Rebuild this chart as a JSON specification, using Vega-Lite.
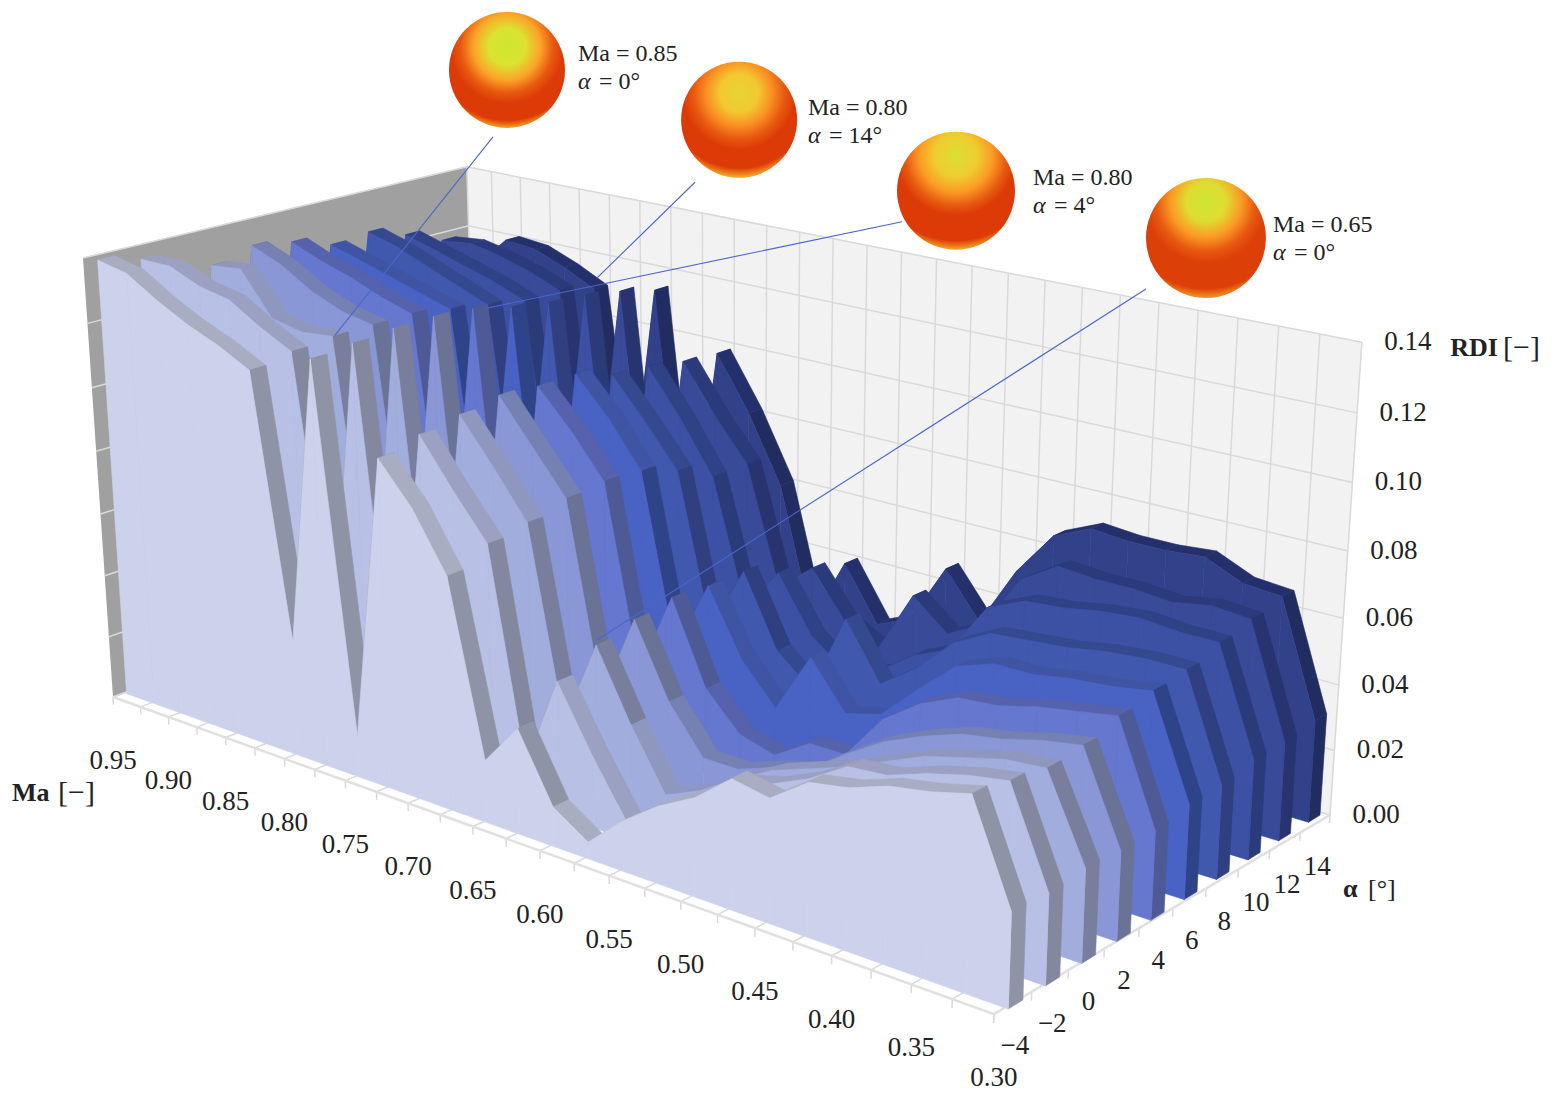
{
"$schema":"https://vega.github.io/schema/vega-lite/v6.json",
"width":1554,"height":1106,"padding":0,
"autosize":{"type":"fit","contains":"padding"},
"background":"white",
"config":{"view":{"stroke":null}},
"datasets":{
"frame":[
{"set":"wall","id":"left","ma":[0.95,0.9465,0.9465,0.95],"alpha":[-5,15,15,-5],"rdi":[0.14,0.14,0,0]},
{"set":"wall","id":"back","ma":[0.9465,0.3,0.3,0.9465],"alpha":[15,15,15,15],"rdi":[0.14,0.14,0,0]},
{"set":"grid","id":"m0","ma":[0.95,0.95,0.9465,0.9465],"alpha":[-5,-5,15,15],"rdi":[-0.0025,0,0,0.14]},
{"set":"grid","id":"m1","ma":[0.925,0.925,0.925,0.925],"alpha":[-5,-5,15,15],"rdi":[-0.0025,0,0,0.14]},
{"set":"grid","id":"m2","ma":[0.9,0.9,0.9,0.9],"alpha":[-5,-5,15,15],"rdi":[-0.0025,0,0,0.14]},
{"set":"grid","id":"m3","ma":[0.875,0.875,0.875,0.875],"alpha":[-5,-5,15,15],"rdi":[-0.0025,0,0,0.14]},
{"set":"grid","id":"m4","ma":[0.85,0.85,0.85,0.85],"alpha":[-5,-5,15,15],"rdi":[-0.0025,0,0,0.14]},
{"set":"grid","id":"m5","ma":[0.825,0.825,0.825,0.825],"alpha":[-5,-5,15,15],"rdi":[-0.0025,0,0,0.14]},
{"set":"grid","id":"m6","ma":[0.8,0.8,0.8,0.8],"alpha":[-5,-5,15,15],"rdi":[-0.0025,0,0,0.14]},
{"set":"grid","id":"m7","ma":[0.775,0.775,0.775,0.775],"alpha":[-5,-5,15,15],"rdi":[-0.0025,0,0,0.14]},
{"set":"grid","id":"m8","ma":[0.75,0.75,0.75,0.75],"alpha":[-5,-5,15,15],"rdi":[-0.0025,0,0,0.14]},
{"set":"grid","id":"m9","ma":[0.725,0.725,0.725,0.725],"alpha":[-5,-5,15,15],"rdi":[-0.0025,0,0,0.14]},
{"set":"grid","id":"m10","ma":[0.7,0.7,0.7,0.7],"alpha":[-5,-5,15,15],"rdi":[-0.0025,0,0,0.14]},
{"set":"grid","id":"m11","ma":[0.675,0.675,0.675,0.675],"alpha":[-5,-5,15,15],"rdi":[-0.0025,0,0,0.14]},
{"set":"grid","id":"m12","ma":[0.65,0.65,0.65,0.65],"alpha":[-5,-5,15,15],"rdi":[-0.0025,0,0,0.14]},
{"set":"grid","id":"m13","ma":[0.625,0.625,0.625,0.625],"alpha":[-5,-5,15,15],"rdi":[-0.0025,0,0,0.14]},
{"set":"grid","id":"m14","ma":[0.6,0.6,0.6,0.6],"alpha":[-5,-5,15,15],"rdi":[-0.0025,0,0,0.14]},
{"set":"grid","id":"m15","ma":[0.575,0.575,0.575,0.575],"alpha":[-5,-5,15,15],"rdi":[-0.0025,0,0,0.14]},
{"set":"grid","id":"m16","ma":[0.55,0.55,0.55,0.55],"alpha":[-5,-5,15,15],"rdi":[-0.0025,0,0,0.14]},
{"set":"grid","id":"m17","ma":[0.525,0.525,0.525,0.525],"alpha":[-5,-5,15,15],"rdi":[-0.0025,0,0,0.14]},
{"set":"grid","id":"m18","ma":[0.5,0.5,0.5,0.5],"alpha":[-5,-5,15,15],"rdi":[-0.0025,0,0,0.14]},
{"set":"grid","id":"m19","ma":[0.475,0.475,0.475,0.475],"alpha":[-5,-5,15,15],"rdi":[-0.0025,0,0,0.14]},
{"set":"grid","id":"m20","ma":[0.45,0.45,0.45,0.45],"alpha":[-5,-5,15,15],"rdi":[-0.0025,0,0,0.14]},
{"set":"grid","id":"m21","ma":[0.425,0.425,0.425,0.425],"alpha":[-5,-5,15,15],"rdi":[-0.0025,0,0,0.14]},
{"set":"grid","id":"m22","ma":[0.4,0.4,0.4,0.4],"alpha":[-5,-5,15,15],"rdi":[-0.0025,0,0,0.14]},
{"set":"grid","id":"m23","ma":[0.375,0.375,0.375,0.375],"alpha":[-5,-5,15,15],"rdi":[-0.0025,0,0,0.14]},
{"set":"grid","id":"m24","ma":[0.35,0.35,0.35,0.35],"alpha":[-5,-5,15,15],"rdi":[-0.0025,0,0,0.14]},
{"set":"grid","id":"m25","ma":[0.325,0.325,0.325,0.325],"alpha":[-5,-5,15,15],"rdi":[-0.0025,0,0,0.14]},
{"set":"grid","id":"m26","ma":[0.3,0.3,0.3,0.3],"alpha":[-5,-5,15,15],"rdi":[-0.0025,0,0,0.14]},
{"set":"grid","id":"r0","ma":[0.95,0.9465,0.3],"alpha":[-5,15,15],"rdi":[0.0,0.0,0.0]},
{"set":"grid","id":"r2","ma":[0.95,0.9465,0.3],"alpha":[-5,15,15],"rdi":[0.02,0.02,0.02]},
{"set":"grid","id":"r4","ma":[0.95,0.9465,0.3],"alpha":[-5,15,15],"rdi":[0.04,0.04,0.04]},
{"set":"grid","id":"r6","ma":[0.95,0.9465,0.3],"alpha":[-5,15,15],"rdi":[0.06,0.06,0.06]},
{"set":"grid","id":"r8","ma":[0.95,0.9465,0.3],"alpha":[-5,15,15],"rdi":[0.08,0.08,0.08]},
{"set":"grid","id":"r10","ma":[0.95,0.9465,0.3],"alpha":[-5,15,15],"rdi":[0.1,0.1,0.1]},
{"set":"grid","id":"r12","ma":[0.95,0.9465,0.3],"alpha":[-5,15,15],"rdi":[0.12,0.12,0.12]},
{"set":"grid","id":"r14","ma":[0.95,0.9465,0.3],"alpha":[-5,15,15],"rdi":[0.14,0.14,0.14]},
{"set":"grid","id":"a0","ma":[0.3,0.3],"alpha":[-5,-5],"rdi":[0,-0.0025]},
{"set":"grid","id":"a1","ma":[0.3,0.3],"alpha":[-3,-3],"rdi":[0,-0.0025]},
{"set":"grid","id":"a2","ma":[0.3,0.3],"alpha":[-1,-1],"rdi":[0,-0.0025]},
{"set":"grid","id":"a3","ma":[0.3,0.3],"alpha":[1,1],"rdi":[0,-0.0025]},
{"set":"grid","id":"a4","ma":[0.3,0.3],"alpha":[3,3],"rdi":[0,-0.0025]},
{"set":"grid","id":"a5","ma":[0.3,0.3],"alpha":[5,5],"rdi":[0,-0.0025]},
{"set":"grid","id":"a6","ma":[0.3,0.3],"alpha":[7,7],"rdi":[0,-0.0025]},
{"set":"grid","id":"a7","ma":[0.3,0.3],"alpha":[9,9],"rdi":[0,-0.0025]},
{"set":"grid","id":"a8","ma":[0.3,0.3],"alpha":[11,11],"rdi":[0,-0.0025]},
{"set":"grid","id":"a9","ma":[0.3,0.3],"alpha":[13,13],"rdi":[0,-0.0025]},
{"set":"grid","id":"a10","ma":[0.3,0.3],"alpha":[15,15],"rdi":[0,-0.0025]},
{"set":"edge","id":"floor","ma":[0.95,0.3,0.3],"alpha":[-5,-5,15],"rdi":[0,0,0]},
{"set":"tickMa","text":"0.95","ma":[0.95],"alpha":[-5],"rdi":[0]},
{"set":"tickMa","text":"0.90","ma":[0.9],"alpha":[-5],"rdi":[0]},
{"set":"tickMa","text":"0.85","ma":[0.85],"alpha":[-5],"rdi":[0]},
{"set":"tickMa","text":"0.80","ma":[0.8],"alpha":[-5],"rdi":[0]},
{"set":"tickMa","text":"0.75","ma":[0.75],"alpha":[-5],"rdi":[0]},
{"set":"tickMa","text":"0.70","ma":[0.7],"alpha":[-5],"rdi":[0]},
{"set":"tickMa","text":"0.65","ma":[0.65],"alpha":[-5],"rdi":[0]},
{"set":"tickMa","text":"0.60","ma":[0.6],"alpha":[-5],"rdi":[0]},
{"set":"tickMa","text":"0.55","ma":[0.55],"alpha":[-5],"rdi":[0]},
{"set":"tickMa","text":"0.50","ma":[0.5],"alpha":[-5],"rdi":[0]},
{"set":"tickMa","text":"0.45","ma":[0.45],"alpha":[-5],"rdi":[0]},
{"set":"tickMa","text":"0.40","ma":[0.4],"alpha":[-5],"rdi":[0]},
{"set":"tickMa","text":"0.35","ma":[0.35],"alpha":[-5],"rdi":[0]},
{"set":"tickMa","text":"0.30","ma":[0.3],"alpha":[-5],"rdi":[0]},
{"set":"tickAlpha","text":"−4","ma":[0.3],"alpha":[-4],"rdi":[0]},
{"set":"tickAlpha","text":"−2","ma":[0.3],"alpha":[-2],"rdi":[0]},
{"set":"tickAlpha","text":"0","ma":[0.3],"alpha":[0],"rdi":[0]},
{"set":"tickAlpha","text":"2","ma":[0.3],"alpha":[2],"rdi":[0]},
{"set":"tickAlpha","text":"4","ma":[0.3],"alpha":[4],"rdi":[0]},
{"set":"tickAlpha","text":"6","ma":[0.3],"alpha":[6],"rdi":[0]},
{"set":"tickAlpha","text":"8","ma":[0.3],"alpha":[8],"rdi":[0]},
{"set":"tickAlpha","text":"10","ma":[0.3],"alpha":[10],"rdi":[0]},
{"set":"tickAlpha","text":"12","ma":[0.3],"alpha":[12],"rdi":[0]},
{"set":"tickAlpha","text":"14","ma":[0.3],"alpha":[14],"rdi":[0]},
{"set":"tickRdi","text":"0.00","ma":[0.3],"alpha":[15],"rdi":[0]},
{"set":"tickRdi","text":"0.02","ma":[0.3],"alpha":[15],"rdi":[0.02]},
{"set":"tickRdi","text":"0.04","ma":[0.3],"alpha":[15],"rdi":[0.04]},
{"set":"tickRdi","text":"0.06","ma":[0.3],"alpha":[15],"rdi":[0.06]},
{"set":"tickRdi","text":"0.08","ma":[0.3],"alpha":[15],"rdi":[0.08]},
{"set":"tickRdi","text":"0.10","ma":[0.3],"alpha":[15],"rdi":[0.1]},
{"set":"tickRdi","text":"0.12","ma":[0.3],"alpha":[15],"rdi":[0.12]},
{"set":"tickRdi","text":"0.14","ma":[0.3],"alpha":[15],"rdi":[0.14]},
{"set":"title","text":"RDI","ma":[0.2493],"alpha":[15],"rdi":[0.1432]},
{"set":"title","text":"Ma","ma":[1.4666],"alpha":[15],"rdi":[-0.1612]},
{"set":"title","text":"α","ma":[0.2889],"alpha":[15],"rdi":[-0.0215]},
{"set":"unit","text":"[−]","ma":[0.22],"alpha":[15],"rdi":[0.1459]},
{"set":"unit","text":"[−]","ma":[1.4088],"alpha":[15],"rdi":[-0.1529]},
{"set":"unit2","text":"[°]","ma":[0.2737],"alpha":[15],"rdi":[-0.0192]},
{"set":"leader","id":"l1","ma":[0.9228,1.0748],"alpha":[15,15],"rdi":[0.1518,0.0703]},
{"set":"leader","id":"l2","ma":[0.7557,0.8361],"alpha":[15,15],"rdi":[0.1494,0.1116]},
{"set":"leader","id":"l3","ma":[0.6,0.9319],"alpha":[15,15],"rdi":[0.1493,0.0929]},
{"set":"leader","id":"l4","ma":[0.4337,0.8406],"alpha":[15,15],"rdi":[0.1432,-0.0147]},
{"set":"sphere","id":"s1","ma":[0.9093],"alpha":[15],"rdi":[0.1748]},
{"set":"sphere","id":"s2","ma":[0.7213],"alpha":[15],"rdi":[0.1716]},
{"set":"sphere","id":"s3","ma":[0.5625],"alpha":[15],"rdi":[0.1616]},
{"set":"sphere","id":"s4","ma":[0.3974],"alpha":[15],"rdi":[0.161]},
{"set":"note","text":"Ma = 0.85","text2":"= 0°","ma":[0.8492],"alpha":[15],"rdi":[0.1838]},
{"set":"note","text":"Ma = 0.80","text2":"= 14°","ma":[0.6695],"alpha":[15],"rdi":[0.1788]},
{"set":"note","text":"Ma = 0.80","text2":"= 4°","ma":[0.5103],"alpha":[15],"rdi":[0.1694]},
{"set":"note","text":"Ma = 0.65","text2":"= 0°","ma":[0.3569],"alpha":[15],"rdi":[0.168]}
],
"ribbons":[
{"alpha":-4,"ma":0.95,"rdi":0.14},{"alpha":-4,"ma":0.925,"rdi":0.138},{"alpha":-4,"ma":0.9,"rdi":0.132},{"alpha":-4,"ma":0.875,"rdi":0.127},{"alpha":-4,"ma":0.85,"rdi":0.123},{"alpha":-4,"ma":0.825,"rdi":0.118},{"alpha":-4,"ma":0.8,"rdi":0.038},{"alpha":-4,"ma":0.775,"rdi":0.126},{"alpha":-4,"ma":0.75,"rdi":0.015},{"alpha":-4,"ma":0.725,"rdi":0.102},{"alpha":-4,"ma":0.7,"rdi":0.09},{"alpha":-4,"ma":0.675,"rdi":0.073},{"alpha":-4,"ma":0.65,"rdi":0.021},{"alpha":-4,"ma":0.625,"rdi":0.034},{"alpha":-4,"ma":0.6,"rdi":0.014},{"alpha":-4,"ma":0.575,"rdi":0.007},{"alpha":-4,"ma":0.55,"rdi":0.017},{"alpha":-4,"ma":0.525,"rdi":0.025},{"alpha":-4,"ma":0.5,"rdi":0.031},{"alpha":-4,"ma":0.475,"rdi":0.04},{"alpha":-4,"ma":0.45,"rdi":0.038},{"alpha":-4,"ma":0.425,"rdi":0.046},{"alpha":-4,"ma":0.4,"rdi":0.048},{"alpha":-4,"ma":0.375,"rdi":0.052},{"alpha":-4,"ma":0.35,"rdi":0.054},{"alpha":-4,"ma":0.325,"rdi":0.057},{"alpha":-4,"ma":0.3,"rdi":0.029},{"alpha":-4,"ma":0.3,"rdi":0.002},
{"alpha":-2,"ma":0.95,"rdi":0.137},{"alpha":-2,"ma":0.925,"rdi":0.137},{"alpha":-2,"ma":0.9,"rdi":0.133},{"alpha":-2,"ma":0.875,"rdi":0.131},{"alpha":-2,"ma":0.85,"rdi":0.125},{"alpha":-2,"ma":0.825,"rdi":0.12},{"alpha":-2,"ma":0.8,"rdi":0.035},{"alpha":-2,"ma":0.775,"rdi":0.127},{"alpha":-2,"ma":0.75,"rdi":0.015},{"alpha":-2,"ma":0.725,"rdi":0.105},{"alpha":-2,"ma":0.7,"rdi":0.091},{"alpha":-2,"ma":0.675,"rdi":0.078},{"alpha":-2,"ma":0.65,"rdi":0.014},{"alpha":-2,"ma":0.625,"rdi":0.043},{"alpha":-2,"ma":0.6,"rdi":0.024},{"alpha":-2,"ma":0.575,"rdi":0.007},{"alpha":-2,"ma":0.55,"rdi":0.014},{"alpha":-2,"ma":0.525,"rdi":0.022},{"alpha":-2,"ma":0.5,"rdi":0.03},{"alpha":-2,"ma":0.475,"rdi":0.033},{"alpha":-2,"ma":0.45,"rdi":0.038},{"alpha":-2,"ma":0.425,"rdi":0.045},{"alpha":-2,"ma":0.4,"rdi":0.046},{"alpha":-2,"ma":0.375,"rdi":0.05},{"alpha":-2,"ma":0.35,"rdi":0.053},{"alpha":-2,"ma":0.325,"rdi":0.055},{"alpha":-2,"ma":0.3,"rdi":0.028},{"alpha":-2,"ma":0.3,"rdi":0.002},
{"alpha":0,"ma":0.95,"rdi":0.06},{"alpha":0,"ma":0.925,"rdi":0.134},{"alpha":0,"ma":0.9,"rdi":0.135},{"alpha":0,"ma":0.875,"rdi":0.122},{"alpha":0,"ma":0.85,"rdi":0.12},{"alpha":0,"ma":0.825,"rdi":0.121},{"alpha":0,"ma":0.8,"rdi":0.033},{"alpha":0,"ma":0.775,"rdi":0.128},{"alpha":0,"ma":0.75,"rdi":0.017},{"alpha":0,"ma":0.725,"rdi":0.107},{"alpha":0,"ma":0.7,"rdi":0.094},{"alpha":0,"ma":0.675,"rdi":0.08},{"alpha":0,"ma":0.65,"rdi":0.022},{"alpha":0,"ma":0.625,"rdi":0.049},{"alpha":0,"ma":0.6,"rdi":0.028},{"alpha":0,"ma":0.575,"rdi":0.01},{"alpha":0,"ma":0.55,"rdi":0.015},{"alpha":0,"ma":0.525,"rdi":0.022},{"alpha":0,"ma":0.5,"rdi":0.028},{"alpha":0,"ma":0.475,"rdi":0.032},{"alpha":0,"ma":0.45,"rdi":0.036},{"alpha":0,"ma":0.425,"rdi":0.041},{"alpha":0,"ma":0.4,"rdi":0.046},{"alpha":0,"ma":0.375,"rdi":0.049},{"alpha":0,"ma":0.35,"rdi":0.052},{"alpha":0,"ma":0.325,"rdi":0.053},{"alpha":0,"ma":0.3,"rdi":0.029},{"alpha":0,"ma":0.3,"rdi":0.002},
{"alpha":2,"ma":0.95,"rdi":0.06},{"alpha":2,"ma":0.925,"rdi":0.137},{"alpha":2,"ma":0.9,"rdi":0.133},{"alpha":2,"ma":0.875,"rdi":0.127},{"alpha":2,"ma":0.85,"rdi":0.123},{"alpha":2,"ma":0.825,"rdi":0.121},{"alpha":2,"ma":0.8,"rdi":0.035},{"alpha":2,"ma":0.775,"rdi":0.128},{"alpha":2,"ma":0.75,"rdi":0.018},{"alpha":2,"ma":0.725,"rdi":0.109},{"alpha":2,"ma":0.7,"rdi":0.096},{"alpha":2,"ma":0.675,"rdi":0.083},{"alpha":2,"ma":0.65,"rdi":0.025},{"alpha":2,"ma":0.625,"rdi":0.052},{"alpha":2,"ma":0.6,"rdi":0.03},{"alpha":2,"ma":0.575,"rdi":0.016},{"alpha":2,"ma":0.55,"rdi":0.016},{"alpha":2,"ma":0.525,"rdi":0.02},{"alpha":2,"ma":0.5,"rdi":0.023},{"alpha":2,"ma":0.475,"rdi":0.031},{"alpha":2,"ma":0.45,"rdi":0.038},{"alpha":2,"ma":0.425,"rdi":0.043},{"alpha":2,"ma":0.4,"rdi":0.047},{"alpha":2,"ma":0.375,"rdi":0.049},{"alpha":2,"ma":0.35,"rdi":0.052},{"alpha":2,"ma":0.325,"rdi":0.054},{"alpha":2,"ma":0.3,"rdi":0.028},{"alpha":2,"ma":0.3,"rdi":0.002},
{"alpha":4,"ma":0.95,"rdi":0.06},{"alpha":4,"ma":0.925,"rdi":0.135},{"alpha":4,"ma":0.9,"rdi":0.131},{"alpha":4,"ma":0.875,"rdi":0.128},{"alpha":4,"ma":0.85,"rdi":0.124},{"alpha":4,"ma":0.825,"rdi":0.121},{"alpha":4,"ma":0.8,"rdi":0.036},{"alpha":4,"ma":0.775,"rdi":0.127},{"alpha":4,"ma":0.75,"rdi":0.018},{"alpha":4,"ma":0.725,"rdi":0.108},{"alpha":4,"ma":0.7,"rdi":0.097},{"alpha":4,"ma":0.675,"rdi":0.084},{"alpha":4,"ma":0.65,"rdi":0.028},{"alpha":4,"ma":0.625,"rdi":0.054},{"alpha":4,"ma":0.6,"rdi":0.029},{"alpha":4,"ma":0.575,"rdi":0.018},{"alpha":4,"ma":0.55,"rdi":0.015},{"alpha":4,"ma":0.525,"rdi":0.022},{"alpha":4,"ma":0.5,"rdi":0.022},{"alpha":4,"ma":0.475,"rdi":0.036},{"alpha":4,"ma":0.45,"rdi":0.044},{"alpha":4,"ma":0.425,"rdi":0.049},{"alpha":4,"ma":0.4,"rdi":0.05},{"alpha":4,"ma":0.375,"rdi":0.053},{"alpha":4,"ma":0.35,"rdi":0.055},{"alpha":4,"ma":0.325,"rdi":0.057},{"alpha":4,"ma":0.3,"rdi":0.028},{"alpha":4,"ma":0.3,"rdi":0.002},
{"alpha":6,"ma":0.95,"rdi":0.06},{"alpha":6,"ma":0.925,"rdi":0.131},{"alpha":6,"ma":0.9,"rdi":0.128},{"alpha":6,"ma":0.875,"rdi":0.125},{"alpha":6,"ma":0.85,"rdi":0.122},{"alpha":6,"ma":0.825,"rdi":0.119},{"alpha":6,"ma":0.8,"rdi":0.038},{"alpha":6,"ma":0.775,"rdi":0.124},{"alpha":6,"ma":0.75,"rdi":0.02},{"alpha":6,"ma":0.725,"rdi":0.108},{"alpha":6,"ma":0.7,"rdi":0.097},{"alpha":6,"ma":0.675,"rdi":0.083},{"alpha":6,"ma":0.65,"rdi":0.03},{"alpha":6,"ma":0.625,"rdi":0.053},{"alpha":6,"ma":0.6,"rdi":0.033},{"alpha":6,"ma":0.575,"rdi":0.021},{"alpha":6,"ma":0.55,"rdi":0.04},{"alpha":6,"ma":0.525,"rdi":0.026},{"alpha":6,"ma":0.5,"rdi":0.029},{"alpha":6,"ma":0.475,"rdi":0.04},{"alpha":6,"ma":0.45,"rdi":0.05},{"alpha":6,"ma":0.425,"rdi":0.054},{"alpha":6,"ma":0.4,"rdi":0.054},{"alpha":6,"ma":0.375,"rdi":0.056},{"alpha":6,"ma":0.35,"rdi":0.057},{"alpha":6,"ma":0.325,"rdi":0.059},{"alpha":6,"ma":0.3,"rdi":0.03},{"alpha":6,"ma":0.3,"rdi":0.002},
{"alpha":8,"ma":0.95,"rdi":0.06},{"alpha":8,"ma":0.925,"rdi":0.132},{"alpha":8,"ma":0.9,"rdi":0.129},{"alpha":8,"ma":0.875,"rdi":0.125},{"alpha":8,"ma":0.85,"rdi":0.121},{"alpha":8,"ma":0.825,"rdi":0.117},{"alpha":8,"ma":0.8,"rdi":0.038},{"alpha":8,"ma":0.775,"rdi":0.122},{"alpha":8,"ma":0.75,"rdi":0.022},{"alpha":8,"ma":0.725,"rdi":0.104},{"alpha":8,"ma":0.7,"rdi":0.092},{"alpha":8,"ma":0.675,"rdi":0.079},{"alpha":8,"ma":0.65,"rdi":0.032},{"alpha":8,"ma":0.625,"rdi":0.053},{"alpha":8,"ma":0.6,"rdi":0.031},{"alpha":8,"ma":0.575,"rdi":0.022},{"alpha":8,"ma":0.55,"rdi":0.047},{"alpha":8,"ma":0.525,"rdi":0.03},{"alpha":8,"ma":0.5,"rdi":0.038},{"alpha":8,"ma":0.475,"rdi":0.049},{"alpha":8,"ma":0.45,"rdi":0.055},{"alpha":8,"ma":0.425,"rdi":0.056},{"alpha":8,"ma":0.4,"rdi":0.057},{"alpha":8,"ma":0.375,"rdi":0.059},{"alpha":8,"ma":0.35,"rdi":0.06},{"alpha":8,"ma":0.325,"rdi":0.06},{"alpha":8,"ma":0.3,"rdi":0.03},{"alpha":8,"ma":0.3,"rdi":0.002},
{"alpha":10,"ma":0.95,"rdi":0.06},{"alpha":10,"ma":0.925,"rdi":0.128},{"alpha":10,"ma":0.9,"rdi":0.125},{"alpha":10,"ma":0.875,"rdi":0.122},{"alpha":10,"ma":0.85,"rdi":0.119},{"alpha":10,"ma":0.825,"rdi":0.115},{"alpha":10,"ma":0.8,"rdi":0.036},{"alpha":10,"ma":0.775,"rdi":0.121},{"alpha":10,"ma":0.75,"rdi":0.022},{"alpha":10,"ma":0.725,"rdi":0.103},{"alpha":10,"ma":0.7,"rdi":0.089},{"alpha":10,"ma":0.675,"rdi":0.073},{"alpha":10,"ma":0.65,"rdi":0.034},{"alpha":10,"ma":0.625,"rdi":0.048},{"alpha":10,"ma":0.6,"rdi":0.031},{"alpha":10,"ma":0.575,"rdi":0.023},{"alpha":10,"ma":0.55,"rdi":0.026},{"alpha":10,"ma":0.525,"rdi":0.034},{"alpha":10,"ma":0.5,"rdi":0.039},{"alpha":10,"ma":0.475,"rdi":0.055},{"alpha":10,"ma":0.45,"rdi":0.06},{"alpha":10,"ma":0.425,"rdi":0.061},{"alpha":10,"ma":0.4,"rdi":0.063},{"alpha":10,"ma":0.375,"rdi":0.064},{"alpha":10,"ma":0.35,"rdi":0.063},{"alpha":10,"ma":0.325,"rdi":0.063},{"alpha":10,"ma":0.3,"rdi":0.032},{"alpha":10,"ma":0.3,"rdi":0.002},
{"alpha":12,"ma":0.95,"rdi":0.06},{"alpha":12,"ma":0.925,"rdi":0.123},{"alpha":12,"ma":0.9,"rdi":0.124},{"alpha":12,"ma":0.875,"rdi":0.122},{"alpha":12,"ma":0.85,"rdi":0.119},{"alpha":12,"ma":0.825,"rdi":0.115},{"alpha":12,"ma":0.8,"rdi":0.035},{"alpha":12,"ma":0.775,"rdi":0.119},{"alpha":12,"ma":0.75,"rdi":0.02},{"alpha":12,"ma":0.725,"rdi":0.101},{"alpha":12,"ma":0.7,"rdi":0.086},{"alpha":12,"ma":0.675,"rdi":0.073},{"alpha":12,"ma":0.65,"rdi":0.036},{"alpha":12,"ma":0.625,"rdi":0.045},{"alpha":12,"ma":0.6,"rdi":0.031},{"alpha":12,"ma":0.575,"rdi":0.025},{"alpha":12,"ma":0.55,"rdi":0.045},{"alpha":12,"ma":0.525,"rdi":0.036},{"alpha":12,"ma":0.5,"rdi":0.042},{"alpha":12,"ma":0.475,"rdi":0.059},{"alpha":12,"ma":0.45,"rdi":0.066},{"alpha":12,"ma":0.425,"rdi":0.065},{"alpha":12,"ma":0.4,"rdi":0.065},{"alpha":12,"ma":0.375,"rdi":0.064},{"alpha":12,"ma":0.35,"rdi":0.066},{"alpha":12,"ma":0.325,"rdi":0.065},{"alpha":12,"ma":0.3,"rdi":0.032},{"alpha":12,"ma":0.3,"rdi":0.002},
{"alpha":14,"ma":0.95,"rdi":0.06},{"alpha":14,"ma":0.925,"rdi":0.112},{"alpha":14,"ma":0.9,"rdi":0.122},{"alpha":14,"ma":0.875,"rdi":0.121},{"alpha":14,"ma":0.85,"rdi":0.117},{"alpha":14,"ma":0.825,"rdi":0.112},{"alpha":14,"ma":0.8,"rdi":0.033},{"alpha":14,"ma":0.775,"rdi":0.116},{"alpha":14,"ma":0.75,"rdi":0.02},{"alpha":14,"ma":0.725,"rdi":0.1},{"alpha":14,"ma":0.7,"rdi":0.083},{"alpha":14,"ma":0.675,"rdi":0.062},{"alpha":14,"ma":0.65,"rdi":0.02},{"alpha":14,"ma":0.625,"rdi":0.042},{"alpha":14,"ma":0.6,"rdi":0.025},{"alpha":14,"ma":0.575,"rdi":0.03},{"alpha":14,"ma":0.55,"rdi":0.049},{"alpha":14,"ma":0.525,"rdi":0.035},{"alpha":14,"ma":0.5,"rdi":0.054},{"alpha":14,"ma":0.475,"rdi":0.068},{"alpha":14,"ma":0.45,"rdi":0.073},{"alpha":14,"ma":0.425,"rdi":0.072},{"alpha":14,"ma":0.4,"rdi":0.072},{"alpha":14,"ma":0.375,"rdi":0.073},{"alpha":14,"ma":0.35,"rdi":0.068},{"alpha":14,"ma":0.325,"rdi":0.067},{"alpha":14,"ma":0.3,"rdi":0.033},{"alpha":14,"ma":0.3,"rdi":0.002}
]
},
"layer":[
{
"data":{"name":"frame"},
"transform":[
{"filter":"datum.set=='wall'||datum.set=='grid'||datum.set=='edge'"},
{"flatten":["ma","alpha","rdi"]},
{"window":[{"op":"row_number","as":"n"}],"groupby":["id"]},
{"calculate":"(datum.alpha+5)/20","as":"v"},
{"calculate":"(0.95-datum.ma)/0.65*(0.99+0.01*datum.v)","as":"u"},
{"calculate":"datum.rdi/0.14","as":"w"},
{"calculate":"1-0.19617*datum.u+0.11645*datum.v-0.04637*datum.w","as":"d"},
{"calculate":"(113+694.8*datum.u+416.2*datum.v-33.85*datum.w)/datum.d","as":"px"},
{"calculate":"(697+121.4*datum.u-68.36*datum.v-450.9*datum.w)/datum.d","as":"py"}
],
"encoding":{
"x":{"field":"px","type":"quantitative","scale":{"domain":[0,1554]},"axis":null},
"y":{"field":"py","type":"quantitative","scale":{"domain":[1106,0]},"axis":null},
"order":{"field":"n"},
"detail":{"field":"id"}
},
"layer":[
{"transform":[{"filter":"datum.id=='left'"}],"mark":{"type":"line","fill":"#a0a0a0","stroke":"#a0a0a0","strokeWidth":0.5}},
{"transform":[{"filter":"datum.id=='back'"}],"mark":{"type":"line","fill":"#f2f2f2","stroke":"#f2f2f2","strokeWidth":0.5}},
{"transform":[{"filter":"datum.set=='grid'"}],"mark":{"type":"line","stroke":"#d9d9d9","strokeWidth":1.5}},
{"transform":[{"filter":"datum.set=='edge'"}],"mark":{"type":"line","stroke":"#e0e0e0","strokeWidth":2.5}}
]
},
{
"data":{"name":"ribbons"},
"transform":[
{"window":[{"op":"lead","field":"ma","as":"ma2"},{"op":"lead","field":"rdi","as":"rdi2"},{"op":"row_number","as":"seg"}],"groupby":["alpha"],"sort":[{"field":"ma","order":"descending"},{"field":"rdi","order":"descending"}]},
{"filter":"isValid(datum.ma2)"},
{"calculate":"['band','face']","as":"part"},
{"flatten":["part"]},
{"calculate":"[0,1,2,3,4]","as":"vert"},
{"flatten":["vert"]},
{"calculate":"datum.vert==1||datum.vert==2?datum.ma2:datum.ma","as":"sm"},
{"calculate":"datum.part=='face'&&(datum.vert==2||datum.vert==3)?0.002:(datum.vert==1||datum.vert==2?datum.rdi2:datum.rdi)","as":"sr"},
{"calculate":"0.008+0.1017*(datum.alpha+4)/2+(datum.part=='band'&&(datum.vert==2||datum.vert==3)?0.04:0)","as":"v"},
{"calculate":"0.015+0.985*(0.95-datum.sm)/0.65","as":"u"},
{"calculate":"datum.sr/0.14","as":"w"},
{"calculate":"1-0.19617*datum.u+0.11645*datum.v-0.04637*datum.w","as":"d"},
{"calculate":"(113+694.8*datum.u+416.2*datum.v-33.85*datum.w)/datum.d","as":"px"},
{"calculate":"(697+121.4*datum.u-68.36*datum.v-450.9*datum.w)/datum.d","as":"py"},
{"calculate":"datum.alpha+(datum.part=='face'?'f':(abs(datum.rdi2-datum.rdi)>=0.02?'s':'g'))","as":"key"}
],
"encoding":{
"x":{"field":"px","type":"quantitative","scale":{"domain":[0,1554]},"axis":null},
"y":{"field":"py","type":"quantitative","scale":{"domain":[1106,0]},"axis":null},
"order":{"field":"vert"},
"detail":{"field":"seg"},
"fill":{"field":"key","type":"nominal","legend":null,"scale":{
"domain":["-4f","-4g","-4s","-2f","-2g","-2s","0f","0g","0s","2f","2g","2s","4f","4g","4s","6f","6g","6s","8f","8g","8s","10f","10g","10s","12f","12g","12s","14f","14g","14s"],
"range":["#cdd2ec","#a8adc2","#8f93a6","#b8c0e5","#9ca1c2","#84889f","#a1addc","#8f97bf","#787e9b","#8997d6","#7580b3","#6a7296","#6577cf","#5662ab","#4e5a96","#4963c4","#3f55a3","#2f4389","#4059ae","#35498f","#2f3f80","#3c51a3","#2f4285","#2b3a78","#384a98","#2b3a7b","#283470","#31428a","#23306b","#212c60"]}},
"stroke":{"field":"key","type":"nominal","legend":null,"scale":{
"domain":["-4f","-4g","-4s","-2f","-2g","-2s","0f","0g","0s","2f","2g","2s","4f","4g","4s","6f","6g","6s","8f","8g","8s","10f","10g","10s","12f","12g","12s","14f","14g","14s"],
"range":["#cdd2ec","#a8adc2","#8f93a6","#b8c0e5","#9ca1c2","#84889f","#a1addc","#8f97bf","#787e9b","#8997d6","#7580b3","#6a7296","#6577cf","#5662ab","#4e5a96","#4963c4","#3f55a3","#2f4389","#4059ae","#35498f","#2f3f80","#3c51a3","#2f4285","#2b3a78","#384a98","#2b3a7b","#283470","#31428a","#23306b","#212c60"]}}
},
"layer":[
{"transform":[{"filter":"datum.alpha==14&&datum.part=='band'"}],"mark":{"type":"line","strokeWidth":0.6}},
{"transform":[{"filter":"datum.alpha==14&&datum.part=='face'"}],"mark":{"type":"line","strokeWidth":0.6}},
{"transform":[{"filter":"datum.alpha==12&&datum.part=='band'"}],"mark":{"type":"line","strokeWidth":0.6}},
{"transform":[{"filter":"datum.alpha==12&&datum.part=='face'"}],"mark":{"type":"line","strokeWidth":0.6}},
{"transform":[{"filter":"datum.alpha==10&&datum.part=='band'"}],"mark":{"type":"line","strokeWidth":0.6}},
{"transform":[{"filter":"datum.alpha==10&&datum.part=='face'"}],"mark":{"type":"line","strokeWidth":0.6}},
{"transform":[{"filter":"datum.alpha==8&&datum.part=='band'"}],"mark":{"type":"line","strokeWidth":0.6}},
{"transform":[{"filter":"datum.alpha==8&&datum.part=='face'"}],"mark":{"type":"line","strokeWidth":0.6}},
{"transform":[{"filter":"datum.alpha==6&&datum.part=='band'"}],"mark":{"type":"line","strokeWidth":0.6}},
{"transform":[{"filter":"datum.alpha==6&&datum.part=='face'"}],"mark":{"type":"line","strokeWidth":0.6}},
{"transform":[{"filter":"datum.alpha==4&&datum.part=='band'"}],"mark":{"type":"line","strokeWidth":0.6}},
{"transform":[{"filter":"datum.alpha==4&&datum.part=='face'"}],"mark":{"type":"line","strokeWidth":0.6}},
{"transform":[{"filter":"datum.alpha==2&&datum.part=='band'"}],"mark":{"type":"line","strokeWidth":0.6}},
{"transform":[{"filter":"datum.alpha==2&&datum.part=='face'"}],"mark":{"type":"line","strokeWidth":0.6}},
{"transform":[{"filter":"datum.alpha==0&&datum.part=='band'"}],"mark":{"type":"line","strokeWidth":0.6}},
{"transform":[{"filter":"datum.alpha==0&&datum.part=='face'"}],"mark":{"type":"line","strokeWidth":0.6}},
{"transform":[{"filter":"datum.alpha==-2&&datum.part=='band'"}],"mark":{"type":"line","strokeWidth":0.6}},
{"transform":[{"filter":"datum.alpha==-2&&datum.part=='face'"}],"mark":{"type":"line","strokeWidth":0.6}},
{"transform":[{"filter":"datum.alpha==-4&&datum.part=='band'"}],"mark":{"type":"line","strokeWidth":0.6}},
{"transform":[{"filter":"datum.alpha==-4&&datum.part=='face'"}],"mark":{"type":"line","strokeWidth":0.6}}
]
},
{
"data":{"name":"frame"},
"transform":[
{"filter":"datum.set!='wall'&&datum.set!='grid'&&datum.set!='edge'"},
{"flatten":["ma","alpha","rdi"]},
{"calculate":"(datum.alpha+5)/20","as":"v"},
{"calculate":"(0.95-datum.ma)/0.65*(0.99+0.01*datum.v)","as":"u"},
{"calculate":"datum.rdi/0.14","as":"w"},
{"calculate":"1-0.19617*datum.u+0.11645*datum.v-0.04637*datum.w","as":"d"},
{"calculate":"(113+694.8*datum.u+416.2*datum.v-33.85*datum.w)/datum.d","as":"px"},
{"calculate":"(697+121.4*datum.u-68.36*datum.v-450.9*datum.w)/datum.d","as":"py"}
],
"encoding":{
"x":{"field":"px","type":"quantitative","scale":{"domain":[0,1554]},"axis":null},
"y":{"field":"py","type":"quantitative","scale":{"domain":[1106,0]},"axis":null}
},
"layer":[
{"transform":[{"filter":"datum.set=='leader'"}],"mark":{"type":"line","stroke":"#4a66c8","strokeWidth":1.1},"encoding":{"detail":{"field":"id"},"order":null}},
{"transform":[{"filter":"datum.id=='s1'"}],"mark":{"type":"circle","size":13456,"opacity":1,"fill":{"gradient":"radial","x1":0.5,"y1":0.3,"r1":0,"x2":0.5,"y2":0.3,"r2":0.72,"stops":[{"offset":0,"color":"#cde632"},{"offset":0.22,"color":"#dce230"},{"offset":0.4,"color":"#fba428"},{"offset":0.55,"color":"#e85a10"},{"offset":0.68,"color":"#dc3a06"},{"offset":0.88,"color":"#dc3a06"},{"offset":0.95,"color":"#ef8a1e"},{"offset":1,"color":"#e6d832"}]}}},
{"transform":[{"filter":"datum.id=='s2'"}],"mark":{"type":"circle","size":13456,"opacity":1,"fill":{"gradient":"radial","x1":0.5,"y1":0.27,"r1":0,"x2":0.5,"y2":0.27,"r2":0.75,"stops":[{"offset":0,"color":"#e6d434"},{"offset":0.22,"color":"#f2c830"},{"offset":0.38,"color":"#fb8e22"},{"offset":0.52,"color":"#e75a10"},{"offset":0.65,"color":"#dc3a06"},{"offset":0.86,"color":"#dc3a06"},{"offset":0.94,"color":"#f28c20"},{"offset":1,"color":"#f4d534"}]}}},
{"transform":[{"filter":"datum.id=='s3'"}],"mark":{"type":"circle","size":13924,"opacity":1,"fill":{"gradient":"radial","x1":0.5,"y1":0.2,"r1":0,"x2":0.5,"y2":0.2,"r2":0.82,"stops":[{"offset":0,"color":"#d9e034"},{"offset":0.22,"color":"#f0cc30"},{"offset":0.38,"color":"#fb9a24"},{"offset":0.52,"color":"#e75a10"},{"offset":0.62,"color":"#dc3a06"},{"offset":0.88,"color":"#dc3a06"},{"offset":0.95,"color":"#ef8a1e"},{"offset":1,"color":"#f4d534"}]}}},
{"transform":[{"filter":"datum.id=='s4'"}],"mark":{"type":"circle","size":14400,"opacity":1,"fill":{"gradient":"radial","x1":0.5,"y1":0.2,"r1":0,"x2":0.5,"y2":0.2,"r2":0.82,"stops":[{"offset":0,"color":"#cde632"},{"offset":0.2,"color":"#dfdc30"},{"offset":0.36,"color":"#fb9a24"},{"offset":0.5,"color":"#e75a10"},{"offset":0.62,"color":"#dc3f08"},{"offset":0.88,"color":"#dc3f08"},{"offset":0.96,"color":"#f08a20"},{"offset":1,"color":"#f2a828"}]}}},
{"transform":[{"filter":"datum.set=='tickMa'"}],"mark":{"type":"text","font":"Liberation Serif","fontSize":27,"color":"#222222","dx":0,"dy":64},"encoding":{"text":{"field":"text"}}},
{"transform":[{"filter":"datum.set=='tickAlpha'"}],"mark":{"type":"text","font":"Liberation Serif","fontSize":27,"color":"#222222","dx":2,"dy":43},"encoding":{"text":{"field":"text"}}},
{"transform":[{"filter":"datum.set=='tickRdi'"}],"mark":{"type":"text","font":"Liberation Serif","fontSize":27,"color":"#222222","dx":46,"dy":0},"encoding":{"text":{"field":"text"}}},
{"transform":[{"filter":"datum.set=='title'"}],"mark":{"type":"text","font":"Liberation Serif","fontSize":26,"fontWeight":"bold","color":"#222222","align":"left"},"encoding":{"text":{"field":"text"}}},
{"transform":[{"filter":"datum.set=='unit'"}],"mark":{"type":"text","font":"Liberation Serif","fontSize":30,"color":"#222222","align":"left"},"encoding":{"text":{"field":"text"}}},
{"transform":[{"filter":"datum.set=='unit2'"}],"mark":{"type":"text","font":"Liberation Serif","fontSize":26,"color":"#222222","align":"left"},"encoding":{"text":{"field":"text"}}},
{"transform":[{"filter":"datum.set=='note'"}],"mark":{"type":"text","font":"Liberation Serif","fontSize":24,"color":"#222222","align":"left"},"encoding":{"text":{"field":"text"}}},
{"transform":[{"filter":"datum.set=='note'"}],"mark":{"type":"text","font":"Liberation Serif","fontSize":24,"fontStyle":"italic","color":"#222222","align":"left","dy":28,"text":"α"}},
{"transform":[{"filter":"datum.set=='note'"}],"mark":{"type":"text","font":"Liberation Serif","fontSize":24,"color":"#222222","align":"left","dx":21,"dy":28},"encoding":{"text":{"field":"text2"}}}
]
}
]
}
